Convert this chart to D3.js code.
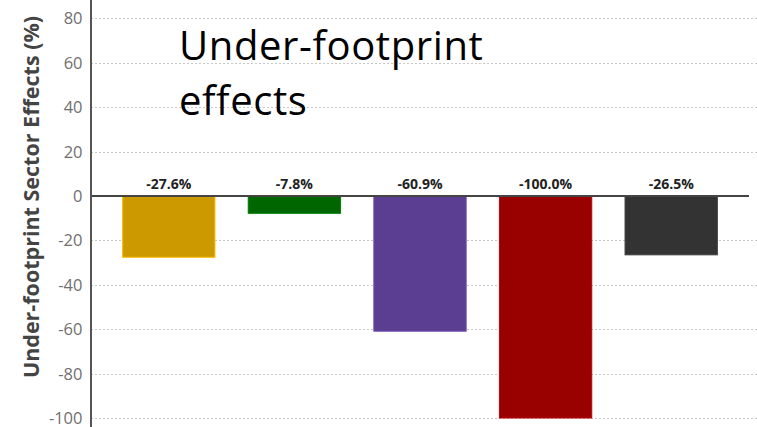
<!DOCTYPE html>
<html>
<head>
<meta charset="utf-8">
<script src="https://cdnjs.cloudflare.com/ajax/libs/d3/7.8.5/d3.min.js"></script>
<style>
  html, body { margin: 0; padding: 0; background: #fff; }
  svg { display: block; }
</style>
</head>
<body>
<svg id="chart" width="757" height="427"></svg>
<script>
// Sector effects under the footprint, percent change
const sectors = ["Sector A", "Sector B", "Sector C", "Sector D", "Sector E"];
const effects = [-27.6, -7.8, -60.9, -100.0, -26.5];
const barColors = ["#cc9900", "#006600", "#5b3d92", "#990000", "#333333"];
const yTicks = [80, 60, 40, 20, 0, -20, -40, -60, -80, -100];

const svg = d3.select("#chart");
const W = 757, H = 427;

const axisX = 91;
const y = d3.scaleLinear().domain([-100, 0]).range([418, 196]);
const x = d3.scaleBand().domain(sectors).range([106, 734]).paddingInner(0.265).paddingOuter(0.1325);

// horizontal gridlines
svg.append("g").selectAll("line").data(yTicks.filter(d => d !== 0)).join("line")
  .attr("x1", axisX).attr("x2", W)
  .attr("y1", d => Math.round(y(d)) + 0.5).attr("y2", d => Math.round(y(d)) + 0.5)
  .attr("stroke", "#c8c8c8").attr("stroke-width", 1).attr("stroke-dasharray", "2,2");

// tick labels
svg.append("g").selectAll("text").data(yTicks).join("text")
  .attr("x", 82.5).attr("y", d => y(d))
  .attr("dy", "0.36em")
  .attr("text-anchor", "end")
  .attr("font-family", "'Open Sans', sans-serif")
  .attr("font-size", 16.5)
  .attr("fill", "#707070")
  .text(d => d);

// bars
svg.append("g").selectAll("rect").data(effects).join("rect")
  .attr("x", (d, i) => x(sectors[i]))
  .attr("width", x.bandwidth())
  .attr("y", d => y(Math.max(0, d)))
  .attr("height", d => Math.abs(y(d) - y(0)))
  .attr("fill", (d, i) => barColors[i])
  .attr("stroke", (d, i) => d3.color(barColors[i]).brighter(0.6))
  .attr("stroke-width", 1);

// value labels
svg.append("g").selectAll("text").data(effects).join("text")
  .attr("x", (d, i) => x(sectors[i]) + x.bandwidth() / 2)
  .attr("y", y(0) - 7)
  .attr("text-anchor", "middle")
  .attr("font-family", "'Open Sans', sans-serif")
  .attr("font-weight", "bold")
  .attr("font-size", 14)
  .attr("fill", "#222")
  .text(d => d.toFixed(1) + "%");

// zero line
svg.append("line")
  .attr("x1", axisX).attr("x2", 749)
  .attr("y1", y(0)).attr("y2", y(0))
  .attr("stroke", "#444").attr("stroke-width", 2);

// vertical axis line
svg.append("line")
  .attr("x1", axisX).attr("x2", axisX)
  .attr("y1", 0).attr("y2", H)
  .attr("stroke", "#555").attr("stroke-width", 2);

// axis title
svg.append("text")
  .attr("transform", `translate(39, 197) rotate(-90)`)
  .attr("text-anchor", "middle")
  .attr("font-family", "'Open Sans', sans-serif")
  .attr("font-weight", "bold")
  .attr("font-size", 21.5)
  .attr("fill", "#444")
  .text("Under-footprint Sector Effects (%)");

// chart heading
const heading = svg.append("text")
  .attr("font-family", "'Open Sans', sans-serif")
  .attr("font-size", 40)
  .attr("letter-spacing", 0.6)
  .attr("fill", "#000");
heading.append("tspan").attr("x", 179).attr("y", 60).text("Under-footprint");
heading.append("tspan").attr("x", 179).attr("y", 115).text("effects");
</script>
</body>
</html>
